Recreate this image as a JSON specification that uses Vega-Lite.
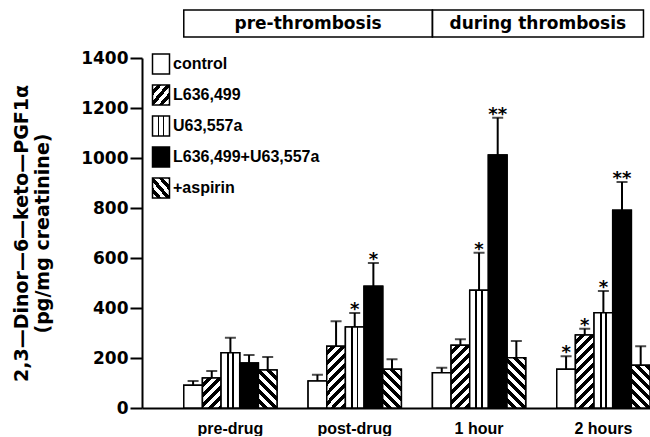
{
  "$schema": "https://vega.github.io/schema/vega-lite/v6.json",
  "background": "white",
  "padding": {"left": 12, "top": 9, "right": 0, "bottom": 0},
  "params": [
    {"name": "hstops", "value": [
      {"offset": 0, "color": "white"}, {"offset": 0.041667, "color": "white"}, {"offset": 0.041667, "color": "black"}, {"offset": 0.083333, "color": "black"},
      {"offset": 0.083333, "color": "white"}, {"offset": 0.125, "color": "white"}, {"offset": 0.125, "color": "black"}, {"offset": 0.166667, "color": "black"},
      {"offset": 0.166667, "color": "white"}, {"offset": 0.208333, "color": "white"}, {"offset": 0.208333, "color": "black"}, {"offset": 0.25, "color": "black"},
      {"offset": 0.25, "color": "white"}, {"offset": 0.291667, "color": "white"}, {"offset": 0.291667, "color": "black"}, {"offset": 0.333333, "color": "black"},
      {"offset": 0.333333, "color": "white"}, {"offset": 0.375, "color": "white"}, {"offset": 0.375, "color": "black"}, {"offset": 0.416667, "color": "black"},
      {"offset": 0.416667, "color": "white"}, {"offset": 0.458333, "color": "white"}, {"offset": 0.458333, "color": "black"}, {"offset": 0.5, "color": "black"},
      {"offset": 0.5, "color": "white"}, {"offset": 0.541667, "color": "white"}, {"offset": 0.541667, "color": "black"}, {"offset": 0.583333, "color": "black"},
      {"offset": 0.583333, "color": "white"}, {"offset": 0.625, "color": "white"}, {"offset": 0.625, "color": "black"}, {"offset": 0.666667, "color": "black"},
      {"offset": 0.666667, "color": "white"}, {"offset": 0.708333, "color": "white"}, {"offset": 0.708333, "color": "black"}, {"offset": 0.75, "color": "black"},
      {"offset": 0.75, "color": "white"}, {"offset": 0.791667, "color": "white"}, {"offset": 0.791667, "color": "black"}, {"offset": 0.833333, "color": "black"},
      {"offset": 0.833333, "color": "white"}, {"offset": 0.875, "color": "white"}, {"offset": 0.875, "color": "black"}, {"offset": 0.916667, "color": "black"},
      {"offset": 0.916667, "color": "white"}, {"offset": 0.958333, "color": "white"}, {"offset": 0.958333, "color": "black"}, {"offset": 1, "color": "black"}
    ]},
    {"name": "gVert", "value": {"gradient": "linear", "x1": 0, "y1": 0, "x2": 1, "y2": 0, "stops": [
      {"offset": 0, "color": "white"}, {"offset": 0.3, "color": "white"}, {"offset": 0.3, "color": "black"}, {"offset": 0.4, "color": "black"},
      {"offset": 0.4, "color": "white"}, {"offset": 0.6, "color": "white"}, {"offset": 0.6, "color": "black"}, {"offset": 0.7, "color": "black"},
      {"offset": 0.7, "color": "white"}, {"offset": 1, "color": "white"}
    ]}},
    {"name": "gSlash", "value": {"gradient": "linear", "x1": 0, "y1": 0, "x2": 1, "y2": 1, "stops": [
      {"offset": 0, "color": "white"}, {"offset": 0.135, "color": "white"}, {"offset": 0.135, "color": "black"}, {"offset": 0.27, "color": "black"},
      {"offset": 0.27, "color": "white"}, {"offset": 0.405, "color": "white"}, {"offset": 0.405, "color": "black"}, {"offset": 0.54, "color": "black"},
      {"offset": 0.54, "color": "white"}, {"offset": 0.675, "color": "white"}, {"offset": 0.675, "color": "black"}, {"offset": 0.81, "color": "black"},
      {"offset": 0.81, "color": "white"}, {"offset": 0.945, "color": "white"}, {"offset": 0.945, "color": "black"}, {"offset": 1, "color": "black"}
    ]}},
    {"name": "gBack", "value": {"gradient": "linear", "x1": 0, "y1": 1, "x2": 1, "y2": 0, "stops": [
      {"offset": 0, "color": "white"}, {"offset": 0.135, "color": "white"}, {"offset": 0.135, "color": "black"}, {"offset": 0.27, "color": "black"},
      {"offset": 0.27, "color": "white"}, {"offset": 0.405, "color": "white"}, {"offset": 0.405, "color": "black"}, {"offset": 0.54, "color": "black"},
      {"offset": 0.54, "color": "white"}, {"offset": 0.675, "color": "white"}, {"offset": 0.675, "color": "black"}, {"offset": 0.81, "color": "black"},
      {"offset": 0.81, "color": "white"}, {"offset": 0.945, "color": "white"}, {"offset": 0.945, "color": "black"}, {"offset": 1, "color": "black"}
    ]}}
  ],
  "spacing": 11,
  "resolve": {"scale": {"fill": "independent"}, "legend": {"fill": "independent"}},
  "vconcat": [
    {
      "width": 508,
      "height": 27,
      "data": {"values": [
        {"label": "pre-thrombosis", "from": "pre-drug", "to": "1 hour"},
        {"label": "during thrombosis", "from": "1 hour", "to": "2 hours"}
      ]},
      "layer": [
        {
          "transform": [{"filter": "datum.label === 'pre-thrombosis'"}],
          "mark": {"type": "rect", "filled": false, "stroke": "black", "strokeWidth": 1.5},
          "encoding": {
            "x": {"field": "from", "type": "nominal", "bandPosition": 0, "scale": {"domain": ["pre-drug", "post-drug", "1 hour", "2 hours"], "paddingInner": 0.25, "paddingOuter": 0.168, "align": 1}, "axis": null},
            "x2": {"field": "to", "bandPosition": 0}
          }
        },
        {
          "transform": [{"filter": "datum.label === 'during thrombosis'"}],
          "mark": {"type": "rect", "filled": false, "stroke": "black", "strokeWidth": 1.5},
          "encoding": {
            "x": {"field": "from", "type": "nominal", "bandPosition": 0, "scale": {"domain": ["pre-drug", "post-drug", "1 hour", "2 hours"], "paddingInner": 0.25, "paddingOuter": 0.168, "align": 1}, "axis": null},
            "x2": {"field": "to", "bandPosition": 0.93}
          }
        },
        {
          "transform": [{"filter": "datum.label === 'pre-thrombosis'"}],
          "mark": {"type": "text", "font": "DejaVu Sans", "fontWeight": "bold", "fontSize": 17, "color": "black", "align": "center", "baseline": "middle"},
          "encoding": {
            "x": {"field": "from", "type": "nominal", "bandPosition": 1.333, "scale": {"domain": ["pre-drug", "post-drug", "1 hour", "2 hours"], "paddingInner": 0.25, "paddingOuter": 0.168, "align": 1}, "axis": null},
            "text": {"field": "label"}
          }
        },
        {
          "transform": [{"filter": "datum.label === 'during thrombosis'"}],
          "mark": {"type": "text", "font": "DejaVu Sans", "fontWeight": "bold", "fontSize": 17, "color": "black", "align": "center", "baseline": "middle"},
          "encoding": {
            "x": {"field": "from", "type": "nominal", "bandPosition": 1.13, "scale": {"domain": ["pre-drug", "post-drug", "1 hour", "2 hours"], "paddingInner": 0.25, "paddingOuter": 0.168, "align": 1}, "axis": null},
            "text": {"field": "label"}
          }
        }
      ]
    },
    {
      "width": 508,
      "height": 350,
      "data": {"values": [
        {"group": "pre-drug", "series": "control", "mean": 91, "upper": 108, "sig": ""},
        {"group": "pre-drug", "series": "L636,499", "mean": 120, "upper": 148, "sig": ""},
        {"group": "pre-drug", "series": "U63,557a", "mean": 221, "upper": 281, "sig": ""},
        {"group": "pre-drug", "series": "L636,499+U63,557a", "mean": 180, "upper": 212, "sig": ""},
        {"group": "pre-drug", "series": "+aspirin", "mean": 152, "upper": 204, "sig": ""},
        {"group": "post-drug", "series": "control", "mean": 108, "upper": 133, "sig": ""},
        {"group": "post-drug", "series": "L636,499", "mean": 247, "upper": 347, "sig": ""},
        {"group": "post-drug", "series": "U63,557a", "mean": 324, "upper": 380, "sig": "*"},
        {"group": "post-drug", "series": "L636,499+U63,557a", "mean": 487, "upper": 580, "sig": "*"},
        {"group": "post-drug", "series": "+aspirin", "mean": 155, "upper": 195, "sig": ""},
        {"group": "1 hour", "series": "control", "mean": 141, "upper": 161, "sig": ""},
        {"group": "1 hour", "series": "L636,499", "mean": 251, "upper": 275, "sig": ""},
        {"group": "1 hour", "series": "U63,557a", "mean": 471, "upper": 621, "sig": "*"},
        {"group": "1 hour", "series": "L636,499+U63,557a", "mean": 1012, "upper": 1161, "sig": "**"},
        {"group": "1 hour", "series": "+aspirin", "mean": 201, "upper": 268, "sig": ""},
        {"group": "2 hours", "series": "control", "mean": 155, "upper": 207, "sig": "*"},
        {"group": "2 hours", "series": "L636,499", "mean": 292, "upper": 317, "sig": "*"},
        {"group": "2 hours", "series": "U63,557a", "mean": 381, "upper": 468, "sig": "*"},
        {"group": "2 hours", "series": "L636,499+U63,557a", "mean": 791, "upper": 904, "sig": "**"},
        {"group": "2 hours", "series": "+aspirin", "mean": 171, "upper": 247, "sig": ""}
      ]},
      "encoding": {
        "x": {
          "field": "group", "type": "nominal",
          "scale": {"domain": ["pre-drug", "post-drug", "1 hour", "2 hours"], "paddingInner": 0.25, "paddingOuter": 0.168, "align": 1},
          "axis": {"title": null, "ticks": false, "labelPadding": 12, "labelFont": "Liberation Sans", "labelFontWeight": "bold", "labelFontSize": 16, "labelAngle": 0, "labelColor": "black", "domainWidth": 2, "domainColor": "black"}
        },
        "xOffset": {"field": "series", "type": "nominal", "scale": {"domain": ["control", "L636,499", "U63,557a", "L636,499+U63,557a", "+aspirin"], "paddingInner": 0, "paddingOuter": 0}}
      },
      "layer": [
        {
          "mark": {"type": "bar", "stroke": "black", "strokeWidth": 1.5},
          "encoding": {
            "y": {
              "field": "mean", "type": "quantitative",
              "scale": {"domain": [0, 1400], "nice": false},
              "axis": {"title": ["2,3—Dinor—6—keto—PGF1α", "(pg/mg creatinine)"], "values": [0, 200, 400, 600, 800, 1000, 1200, 1400], "format": "d", "tickSize": 12, "tickWidth": 2, "tickColor": "black", "domainWidth": 2, "domainColor": "black", "labelFont": "DejaVu Sans", "labelFontWeight": "bold", "labelFontSize": 17, "labelPadding": 2, "labelColor": "black", "titleFont": "DejaVu Sans", "titleFontWeight": "bold", "titleFontSize": 19, "titleLineHeight": 21, "titlePadding": 28, "titleColor": "black"}
            },
            "fill": {
              "field": "series", "type": "nominal",
              "scale": {
                "domain": ["control", "L636,499", "U63,557a", "L636,499+U63,557a", "+aspirin"],
                "range": ["white", {"expr": "gSlash"}, {"expr": "gVert"}, "black", {"expr": "gBack"}]
              },
              "legend": {"title": null, "orient": "none", "legendX": 8, "legendY": -5, "symbolType": "M-0.85,-1H0.85V1H-0.85Z", "symbolSize": 400, "symbolStrokeColor": "black", "symbolStrokeWidth": 1.5, "symbolOpacity": 1, "labelFont": "Liberation Sans", "labelFontWeight": "bold", "labelFontSize": 16, "labelColor": "black", "labelOffset": 1, "rowPadding": 5}
            }
          }
        },
        {
          "mark": {
            "type": "bar", "stroke": "black", "strokeWidth": 1.5,
            "fill": {"expr": "datum.series === 'control' ? 'white' : datum.series === 'L636,499+U63,557a' ? 'black' : datum.series === 'U63,557a' ? gVert : datum.series === 'L636,499' ? {gradient: 'linear', x1: 0, y1: 0, x2: 2238 / (347.8 + datum.mean * datum.mean / 16), y2: 30 * datum.mean / (347.8 + datum.mean * datum.mean / 16), stops: hstops} : {gradient: 'linear', x1: 0, y1: 1, x2: 2238 / (347.8 + datum.mean * datum.mean / 16), y2: 1 - 30 * datum.mean / (347.8 + datum.mean * datum.mean / 16), stops: hstops}"}
          },
          "encoding": {"y": {"field": "mean", "type": "quantitative"}}
        },
        {
          "mark": {"type": "rule", "color": "black", "strokeWidth": 2},
          "encoding": {"y": {"field": "mean", "type": "quantitative"}, "y2": {"field": "upper"}}
        },
        {
          "mark": {"type": "tick", "color": "black", "orient": "horizontal", "size": 11, "thickness": 2},
          "encoding": {"y": {"field": "upper", "type": "quantitative"}}
        },
        {
          "mark": {"type": "text", "font": "DejaVu Sans", "fontWeight": "bold", "fontSize": 18, "color": "black", "align": "center", "baseline": "alphabetic", "dy": 2},
          "encoding": {"y": {"field": "upper", "type": "quantitative"}, "text": {"field": "sig"}}
        }
      ]
    }
  ],
  "config": {
    "view": {"stroke": null},
    "axis": {"grid": false}
  }
}
